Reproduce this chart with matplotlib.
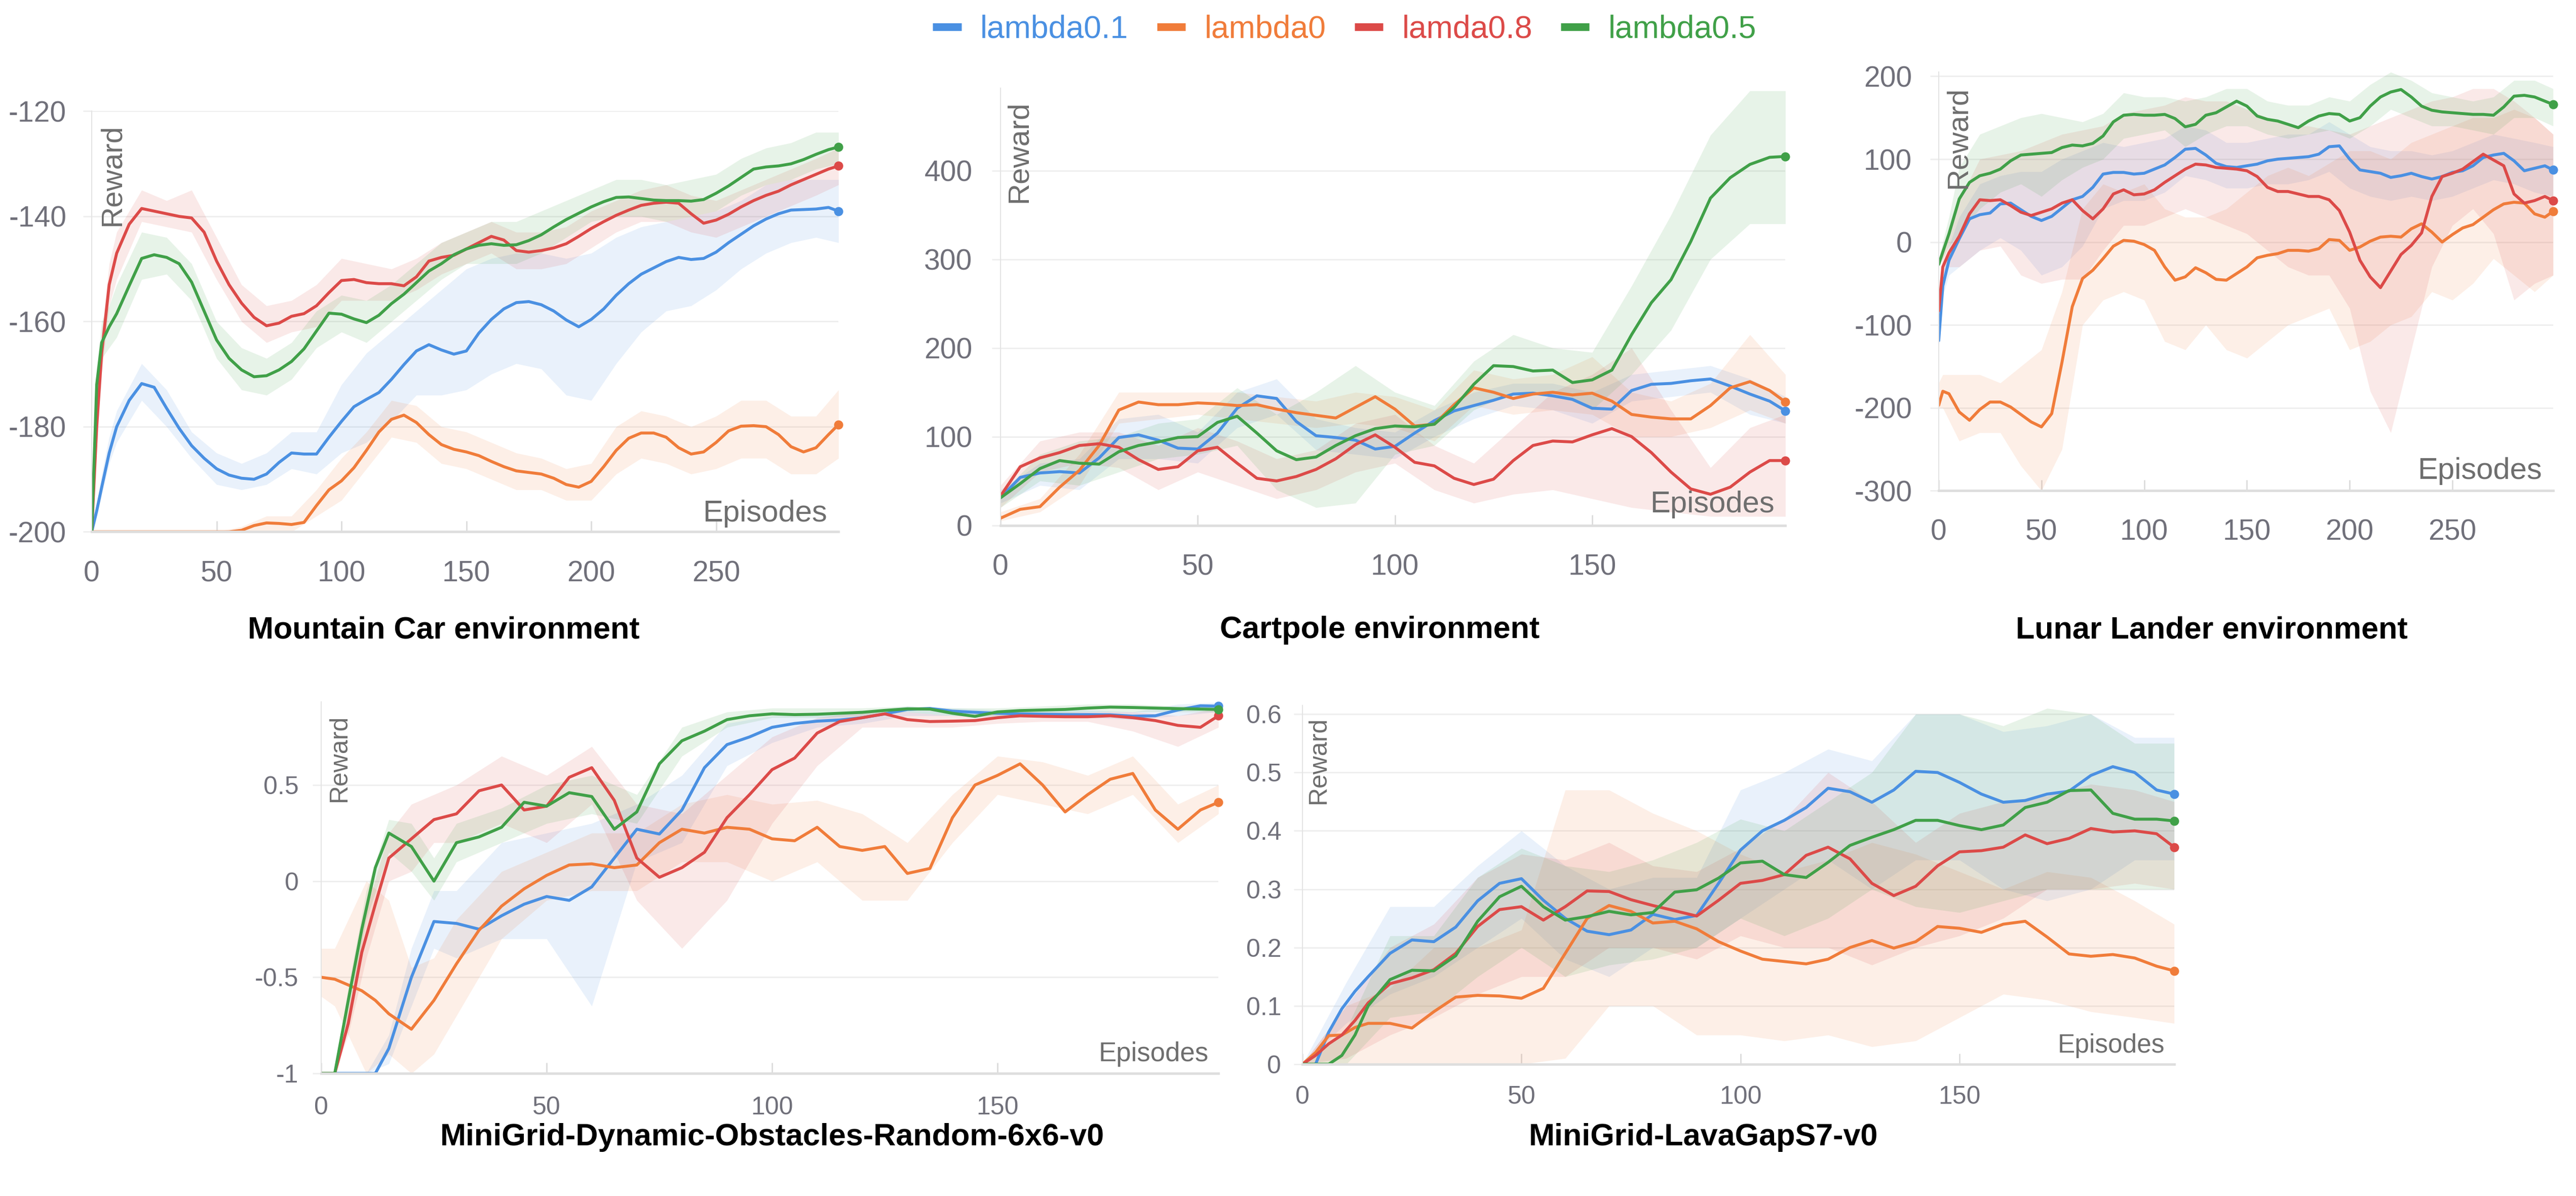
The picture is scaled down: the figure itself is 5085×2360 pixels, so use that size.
import numpy as np
import matplotlib.pyplot as plt
from matplotlib.lines import Line2D

plt.rcParams['font.family'] = ['Liberation Sans', 'DejaVu Sans']

names = ['lambda0.1', 'lambda0', 'lamda0.8', 'lambda0.5']
colors = ['#4a90e2', '#f07c3a', '#dc4a48', '#40a048']

#------ Mountain Car ---------
mc_x = [0, 2, 4, 7, 10] + list(range(15, 300, 5)) + [299]
mc_l01 = [-200, -196, -191.5, -185, -180,
          -175, -171.8, -172.5, -176.5, -180.3, -183.6, -186, -188, -189.2, -189.8,
          -190, -189, -186.8, -185, -185.2, -185.2, -182, -179, -176.2, -174.8,
          -173.5, -171, -168.2, -165.6, -164.4, -165.4, -166.2, -165.6, -162.2, -159.6,
          -157.6, -156.4, -156.2, -156.8, -158, -159.7, -161, -159.6, -157.6, -155,
          -152.8, -151, -149.8, -148.6, -147.8, -148.2, -148, -146.8, -145, -143.4,
          -141.8, -140.5, -139.5, -138.8, -138.7, -138.6, -138.3, -139]
mc_l0 = [-200, -200, -200, -200, -200,
         -200, -200, -200, -200, -200, -200, -200, -200, -200, -199.7,
         -198.8, -198.3, -198.4, -198.6, -198.2, -195, -192, -190.3, -187.8, -184.5,
         -181, -178.6, -177.8, -179.2, -181.5, -183.4, -184.3, -184.8, -185.5, -186.6,
         -187.6, -188.4, -188.7, -189, -189.8, -191, -191.5, -190.4, -187.6, -184.5,
         -182.2, -181.2, -181.2, -182, -184, -185.2, -184.8, -183, -180.8, -179.9,
         -179.8, -180, -181.5, -183.8, -184.8, -184, -181.5, -179.6]
mc_l08 = [-200, -180, -166, -153, -147,
          -141.5, -138.5, -139, -139.5, -140, -140.3, -143, -148.5, -153, -156.5,
          -159.2, -160.8, -160.3, -159, -158.5, -157, -154.5, -152.2, -152, -152.6,
          -152.8, -152.8, -153.2, -151.5, -148.5, -147.8, -147.4, -146.2, -145, -143.8,
          -144.5, -146.5, -146.8, -146.5, -146, -145.2, -143.8, -142.3, -141, -139.8,
          -138.8, -137.9, -137.5, -137.3, -137.5, -139.5, -141.3, -140.7, -139.6, -138.2,
          -137, -136, -135.2, -134, -133, -132, -131, -130.4]
mc_l05 = [-200, -172, -164, -161, -158.5,
          -153.2, -148, -147.3, -147.8, -149, -152.5, -158, -163.5, -167, -169.2,
          -170.5, -170.3, -169.2, -167.6, -165.2, -161.8, -158.4, -158.6, -159.5, -160.2,
          -158.8, -156.6, -154.8, -152.6, -150.4, -149, -147.3, -146.2, -145.5, -145.2,
          -145.5, -145.4, -144.6, -143.5, -142, -140.6, -139.4, -138.2, -137.2, -136.4,
          -136.3, -136.6, -136.9, -137, -137, -137.1, -136.8, -135.6, -134.2, -132.6,
          -131, -130.6, -130.4, -130, -129.2, -128.2, -127.3, -126.8]
# shaded bands
mc_bx = [0, 2, 4, 7] + list(range(10, 300, 10)) + [299]
mc_l01_lo = [-200, -197, -193, -187, -183, -175, -180, -186, -191, -192, -191, -188, -189, -185, -183, -179, -174,
             -174, -173, -170, -168, -169, -174, -175, -168, -162, -158, -157, -154, -150, -147, -145, -144, -145]
mc_l01_hi = [-200, -195, -189, -182, -177, -168, -173, -181, -185, -187, -185, -181, -181, -172, -166, -162, -158,
             -154, -150, -148, -147, -147, -148, -147, -144, -142, -141, -140, -139, -137, -134, -133, -133, -133]
mc_l0_lo = [-200, -200, -200, -200, -200, -200, -200, -200, -200, -200, -200, -200, -197, -194, -188, -182, -183,
            -187, -188, -190, -192, -192, -194, -194, -189, -186, -187, -189, -188, -186, -186, -189, -189, -186]
mc_l0_hi = [-200, -200, -200, -200, -200, -200, -200, -200, -200, -199, -197, -197, -192, -186, -181, -175, -176,
            -180, -181, -183, -185, -186, -188, -187, -180, -177, -178, -180, -178, -175, -175, -178, -178, -173]
mc_l08_lo = [-200, -184, -170, -157, -152, -141, -142, -143, -152, -160, -164, -162, -161, -156, -156, -156, -154,
             -151, -149, -147, -150, -150, -149, -146, -143, -141, -141, -143, -144, -142, -140, -138, -136, -134]
mc_l08_hi = [-200, -176, -162, -149, -143, -135, -137, -135, -144, -153, -157, -156, -153, -148, -149, -150, -148,
             -145, -143, -141, -143, -143, -142, -139, -137, -135, -134, -136, -137, -135, -133, -131, -129, -127]
mc_l05_lo = [-200, -175, -167, -165, -163, -152, -151, -156, -167, -173, -174, -171, -165, -162, -164, -160, -156,
             -152, -149, -149, -149, -147, -144, -141, -140, -140, -141, -140, -139, -136, -134, -133, -131, -130]
mc_l05_hi = [-200, -169, -160, -157, -153, -143, -144, -149, -160, -165, -167, -164, -158, -155, -156, -153, -149,
             -145, -143, -141, -141, -139, -137, -135, -133, -133, -134, -133, -132, -129, -127, -126, -124, -124]

#------ Cartpole ---------
cp_x = list(range(0, 200, 5)) + [199]
cp_l01 = [31, 54, 59, 60.5, 59, 76, 99, 102, 96, 87, 86, 104, 132, 146, 143, 117, 101, 99, 96, 86,
          89, 104, 118, 129, 135, 141, 148, 149, 146, 142, 132, 131, 152, 159, 160, 163, 165, 157, 148, 140, 129]
cp_l0 = [8, 18, 21, 43, 62, 90, 130, 139, 136, 136, 138, 137, 135, 136, 131, 127, 124, 121, 133, 145,
         131, 112, 114, 136, 155, 150, 143, 148, 150, 147, 149, 140, 125, 122, 120, 120, 135, 155, 162, 152, 139]
cp_l08 = [33, 66, 76, 82, 90, 92, 88, 74, 63, 66, 84, 88, 70, 53, 50, 55, 63, 75, 91, 102,
          88, 71, 67, 53, 46, 52, 73, 90, 95, 94, 102, 109, 100, 82, 60, 41, 35, 43, 60, 73, 73]
cp_l05 = [31, 47, 64, 73, 70, 69, 83, 90, 94, 99, 100, 116, 123, 104, 84, 74, 77, 90, 101, 109,
          112, 111, 114, 133, 159, 180, 179, 174, 175, 161, 164, 175, 215, 251, 277, 320, 369, 392, 407, 415, 416]
cp_bx = list(range(0, 200, 10)) + [199]
cp_l01_lo = [25, 45, 40, 75, 75, 70, 110, 125, 85, 80, 75, 100, 120, 135, 130, 115, 140, 145, 150, 125, 115]
cp_l01_hi = [40, 70, 75, 120, 125, 105, 150, 165, 120, 110, 105, 130, 150, 160, 160, 150, 170, 175, 180, 165, 145]
cp_l0_lo = [5, 15, 45, 115, 120, 125, 120, 115, 110, 115, 110, 95, 135, 125, 130, 125, 100, 100, 110, 130, 115]
cp_l0_hi = [15, 30, 80, 150, 150, 150, 150, 145, 140, 150, 145, 130, 175, 165, 170, 190, 150, 140, 160, 215, 170]
cp_l08_lo = [20, 60, 70, 65, 40, 60, 45, 30, 40, 60, 70, 40, 25, 35, 40, 30, 20, 15, 10, 10, 10]
cp_l08_hi = [45, 95, 105, 105, 90, 110, 95, 75, 85, 115, 125, 90, 70, 110, 150, 170, 200, 130, 65, 110, 125]
cp_l05_lo = [20, 50, 45, 60, 75, 80, 90, 40, 20, 25, 80, 90, 130, 150, 150, 130, 170, 220, 300, 340, 340]
cp_l05_hi = [35, 80, 95, 100, 115, 120, 155, 125, 150, 180, 150, 135, 185, 215, 200, 195, 270, 350, 440, 490, 490]

#------ Lunar Lander ---------
ll_x = [0, 2, 5] + list(range(10, 300, 5)) + [299]
ll_l01 = [-119, -53, -22,
          4, 28, 33, 35, 46, 47, 39, 31, 26, 31,
          41, 51, 55, 66, 82, 84, 84, 82, 83, 88,
          93, 102, 112, 113, 105, 95, 91, 90, 92, 94,
          98, 100, 101, 102, 103, 106, 115, 116, 100, 87,
          85, 83, 78, 80, 83, 79, 76, 79, 84, 86,
          92, 102, 105, 107, 98, 86, 89, 92, 87]
ll_l0 = [-197, -180, -183,
         -205, -215, -202, -193, -193, -199, -208, -217, -223, -207,
         -145, -78, -44, -34, -20, -5, 2, 1, -3, -10,
         -30, -46, -42, -31, -37, -45, -46, -38, -30, -19,
         -16, -14, -10, -10, -11, -8, 3, 2, -10, -6,
         1, 6, 7, 6, 16, 22, 12, 0, 9, 17,
         21, 30, 39, 46, 48, 47, 34, 30, 37]
ll_l08 = [-83, -30, -13,
          7, 34, 51, 50, 51, 44, 36, 32, 36, 40,
          47, 51, 38, 28, 40, 58, 63, 57, 58, 63,
          72, 80, 88, 94, 93, 90, 89, 88, 86, 79,
          66, 61, 61, 58, 55, 55, 51, 38, 12, -22,
          -42, -55, -35, -15, -4, 11, 55, 79, 83, 88,
          97, 106, 99, 92, 58, 47, 50, 55, 50]
ll_l05 = [-27, -12, 10,
          52, 72, 80, 83, 88, 98, 105, 106, 107, 108,
          114, 117, 116, 119, 128, 145, 153, 154, 153, 153,
          154, 149, 139, 142, 153, 156, 163, 170, 164, 152,
          148, 146, 142, 138, 146, 152, 155, 154, 146, 150,
          164, 175, 181, 184, 175, 164, 159, 157, 156, 155,
          154, 154, 153, 163, 176, 177, 175, 170, 166]
ll_bx = [0, 2, 5] + list(range(10, 300, 10)) + [299]
ll_l01_lo = [-130, -65, -40, -30, -10, 5, -10, -40, -30, -5, 40, 50, 50, 60, 80, 75, 65, 65,
             70, 70, 75, 85, 65, 55, 50, 55, 50, 55, 65, 75, 70, 60, 55]
ll_l01_hi = [-100, -40, -5, 30, 70, 80, 85, 85, 100, 110, 120, 115, 120, 125, 140, 135, 120, 120,
             125, 130, 130, 145, 130, 115, 110, 110, 105, 110, 120, 130, 125, 120, 115]
ll_l0_lo = [-200, -200, -215, -240, -230, -230, -270, -300, -250, -100, -70, -60, -70, -120, -130, -100, -130, -140,
            -120, -100, -90, -80, -130, -120, -100, -90, -60, -70, -50, -20, -40, -60, -40]
ll_l0_hi = [-170, -160, -160, -160, -160, -170, -150, -130, -60, 40, 70, 60, 70, 40, 30, 30, 40, 60,
            80, 90, 80, 95, 110, 110, 100, 120, 130, 140, 150, 150, 160, 150, 130]
ll_l08_lo = [-90, -45, -30, -30, -10, -5, -40, -50, -45, -45, -10, 20, 20, 30, 40, 30, 20, 10,
             -10, -30, -40, -40, -80, -180, -230, -130, -30, 20, 40, 10, -70, -50, -40]
ll_l08_hi = [-75, -10, 15, 50, 100, 105, 110, 120, 130, 135, 140, 155, 160, 165, 175, 170, 170, 160,
             150, 140, 140, 135, 130, 140, 150, 160, 170, 175, 185, 185, 170, 150, 130]
ll_l05_lo = [-30, -20, -5, 10, 40, 60, 70, 55, 75, 90, 100, 125, 130, 135, 115, 130, 140, 140,
             130, 125, 130, 135, 125, 140, 160, 150, 140, 140, 135, 130, 150, 150, 140]
ll_l05_hi = [-20, 0, 30, 90, 130, 140, 150, 155, 150, 145, 155, 180, 175, 175, 170, 175, 185, 185,
             170, 165, 165, 175, 170, 190, 205, 195, 180, 175, 170, 175, 195, 195, 185]

#------ MiniGrid-Dynamic-Obstacles ---------
mg_x = [0, 3, 6, 9, 12] + list(range(15, 200, 5)) + [199]
mg_l01 = [-1, -1, -1, -1, -1,
          -0.87, -0.5, -0.21, -0.22, -0.25, -0.18, -0.12, -0.08, -0.1, -0.03,
          0.12, 0.27, 0.245, 0.37, 0.59, 0.71, 0.75, 0.8, 0.82, 0.832,
          0.838, 0.85, 0.87, 0.893, 0.898, 0.884, 0.878, 0.873, 0.87, 0.868,
          0.866, 0.866, 0.865, 0.858, 0.86, 0.89, 0.912, 0.91]
mg_l0 = [-0.5, -0.51, -0.54, -0.57, -0.62,
         -0.69, -0.77, -0.62, -0.43, -0.255, -0.13, -0.04, 0.03, 0.084, 0.09,
         0.07, 0.084, 0.2, 0.27, 0.25, 0.28, 0.27, 0.22, 0.21, 0.28,
         0.18, 0.16, 0.18, 0.04, 0.066, 0.33, 0.5, 0.55, 0.61, 0.5,
         0.36, 0.45, 0.53, 0.56, 0.37, 0.27, 0.37, 0.41]
mg_l08 = [-1, -1, -0.74, -0.37, -0.12,
          0.12, 0.22, 0.32, 0.35, 0.47, 0.5, 0.37, 0.39, 0.54, 0.59,
          0.42, 0.12, 0.02, 0.07, 0.15, 0.33, 0.45, 0.58, 0.64, 0.77,
          0.83, 0.85, 0.87, 0.84, 0.83, 0.832, 0.835, 0.85, 0.86, 0.857,
          0.855, 0.855, 0.86, 0.85, 0.835, 0.81, 0.8, 0.86]
mg_l05 = [-1, -1, -0.62, -0.25, 0.07,
          0.25, 0.18, 0.0, 0.2, 0.23, 0.28, 0.41, 0.39, 0.46, 0.44,
          0.27, 0.36, 0.61, 0.73, 0.78, 0.84, 0.86, 0.87, 0.866, 0.868,
          0.873, 0.878, 0.888, 0.896, 0.895, 0.873, 0.857, 0.88, 0.887, 0.89,
          0.893, 0.9, 0.905, 0.903, 0.9, 0.897, 0.895, 0.893]
mg_bx = [0, 3, 6, 10, 15, 20, 25, 30] + list(range(40, 200, 10)) + [199]
mg_l01_lo = [-1, -1, -1, -1, -0.95, -0.65, -0.35, -0.4, -0.3, -0.3, -0.65, 0.1, 0.2, 0.6, 0.72, 0.8, 0.82,
             0.86, 0.86, 0.85, 0.85, 0.85, 0.84, 0.86, 0.88]
mg_l01_hi = [-1, -1, -1, -1, -0.8, -0.35, -0.05, -0.05, 0.2, 0.25, 0.3, 0.4, 0.55, 0.82, 0.86, 0.87, 0.88,
             0.91, 0.9, 0.89, 0.89, 0.89, 0.88, 0.92, 0.93]
mg_l0_lo = [-0.6, -0.65, -0.8, -1, -0.9, -1, -0.9, -0.7, -0.3, -0.1, -0.05, -0.05, 0.1, 0.1, 0.0, 0.1, -0.1,
            -0.1, 0.2, 0.45, 0.4, 0.35, 0.45, 0.2, 0.35]
mg_l0_hi = [-0.35, -0.35, -0.2, 0.0, -0.1, -0.45, -0.4, -0.2, 0.05, 0.15, 0.25, 0.25, 0.4, 0.45, 0.4, 0.42, 0.35,
            0.2, 0.45, 0.65, 0.62, 0.55, 0.65, 0.4, 0.5]
mg_l08_lo = [-1, -1, -0.8, -0.4, 0.0, 0.05, 0.2, 0.2, 0.3, 0.2, 0.4, -0.1, -0.35, -0.1, 0.3, 0.6, 0.8,
             0.8, 0.8, 0.82, 0.83, 0.83, 0.78, 0.7, 0.8]
mg_l08_hi = [-1, -1, -0.68, -0.15, 0.25, 0.4, 0.45, 0.5, 0.65, 0.55, 0.7, 0.4, 0.35, 0.55, 0.75, 0.85, 0.88,
             0.88, 0.86, 0.88, 0.88, 0.88, 0.88, 0.86, 0.9]
mg_l05_lo = [-1, -1, -0.7, -0.2, 0.15, 0.05, -0.1, 0.1, 0.2, 0.3, 0.35, 0.3, 0.65, 0.8, 0.85, 0.85, 0.86,
             0.88, 0.86, 0.86, 0.87, 0.88, 0.88, 0.88, 0.88]
mg_l05_hi = [-1, -1, -0.55, -0.05, 0.32, 0.3, 0.12, 0.3, 0.38, 0.5, 0.55, 0.45, 0.8, 0.88, 0.9, 0.9, 0.9,
             0.91, 0.9, 0.9, 0.91, 0.92, 0.92, 0.91, 0.91]

#------ MiniGrid-LavaGapS7 ---------
lg_x = [0, 3, 6, 9, 12] + list(range(15, 200, 5)) + [199]
lg_l01 = [0, 0, 0.055, 0.095, 0.125,
          0.15, 0.19, 0.213, 0.21, 0.235, 0.28, 0.31, 0.318, 0.281, 0.25,
          0.228, 0.222, 0.23, 0.257, 0.248, 0.255, 0.31, 0.367, 0.4, 0.418,
          0.44, 0.473, 0.467, 0.449, 0.47, 0.502, 0.5, 0.483, 0.463, 0.449,
          0.452, 0.463, 0.468, 0.495, 0.51, 0.5, 0.47, 0.463]
lg_l0 = [0, 0.02, 0.049, 0.05, 0.063,
         0.07, 0.07, 0.062, 0.09, 0.115, 0.118, 0.117, 0.113, 0.13, 0.19,
         0.25, 0.272, 0.262, 0.242, 0.245, 0.232, 0.21, 0.194, 0.18, 0.176,
         0.172, 0.18, 0.2, 0.212, 0.199, 0.21, 0.236, 0.233, 0.226, 0.24,
         0.245, 0.218, 0.189, 0.185, 0.188, 0.182, 0.168, 0.16]
lg_l08 = [0, 0.015, 0.035, 0.05, 0.075,
          0.105, 0.138, 0.148, 0.162, 0.19, 0.236, 0.265, 0.27, 0.247, 0.27,
          0.297, 0.296, 0.282, 0.272, 0.263, 0.254, 0.281, 0.31, 0.315, 0.325,
          0.358, 0.372, 0.352, 0.31, 0.289, 0.305, 0.34, 0.364, 0.366, 0.372,
          0.393, 0.378, 0.387, 0.404, 0.398, 0.4, 0.395, 0.372]
lg_l05 = [0, 0, 0, 0.015, 0.05,
          0.1, 0.145, 0.161, 0.16, 0.186, 0.245, 0.287, 0.305, 0.27, 0.247,
          0.253, 0.262, 0.256, 0.26, 0.295, 0.299, 0.319, 0.345, 0.348, 0.325,
          0.32, 0.346, 0.375, 0.389, 0.402, 0.418, 0.418, 0.409, 0.402, 0.41,
          0.44, 0.449, 0.469, 0.47, 0.43, 0.42, 0.42, 0.417]
lg_bx = list(range(0, 200, 10)) + [199]
lg_l01_lo = [0, 0.07, 0.12, 0.15, 0.2, 0.25, 0.18, 0.15, 0.2, 0.2, 0.25, 0.3, 0.35, 0.3, 0.35, 0.35, 0.3, 0.28, 0.3, 0.35, 0.35]
lg_l01_hi = [0, 0.14, 0.27, 0.27, 0.34, 0.4, 0.34, 0.3, 0.32, 0.32, 0.47, 0.5, 0.54, 0.52, 0.6, 0.6, 0.57, 0.58, 0.6, 0.56, 0.56]
lg_l0_lo = [0, 0, 0, 0, 0, 0, 0.01, 0.1, 0.1, 0.05, 0.05, 0.04, 0.05, 0.03, 0.04, 0.08, 0.12, 0.11, 0.09, 0.08, 0.07]
lg_l0_hi = [0, 0.1, 0.13, 0.2, 0.2, 0.23, 0.47, 0.47, 0.43, 0.4, 0.36, 0.33, 0.35, 0.38, 0.36, 0.33, 0.3, 0.33, 0.32, 0.28, 0.24]
lg_l08_lo = [0, 0.01, 0.05, 0.08, 0.12, 0.15, 0.15, 0.2, 0.2, 0.18, 0.22, 0.2, 0.2, 0.17, 0.2, 0.22, 0.25, 0.3, 0.3, 0.31, 0.3]
lg_l08_hi = [0, 0.1, 0.2, 0.24, 0.32, 0.36, 0.35, 0.38, 0.34, 0.33, 0.37, 0.42, 0.5, 0.45, 0.38, 0.43, 0.45, 0.46, 0.48, 0.47, 0.45]
lg_l05_lo = [0, 0, 0.08, 0.09, 0.15, 0.2, 0.15, 0.17, 0.18, 0.2, 0.25, 0.22, 0.25, 0.3, 0.27, 0.26, 0.28, 0.3, 0.3, 0.3, 0.3]
lg_l05_hi = [0, 0.06, 0.22, 0.22, 0.32, 0.37, 0.34, 0.33, 0.35, 0.38, 0.42, 0.4, 0.45, 0.5, 0.6, 0.6, 0.58, 0.61, 0.6, 0.55, 0.55]

# axis tick labels
mc_yticks = [-200, -180, -160, -140, -120]
cp_yticks = [0, 100, 200, 300, 400]
ll_yticks = [-300, -200, -100, 0, 100, 200]
mg_yticks = [-1, -0.5, 0, 0.5]
mg_ylabels = ['-1', '-0.5', '0', '0.5']
lg_yticks = [0, 0.1, 0.2, 0.3, 0.4, 0.5, 0.6]
lg_ylabels = ['0', '0.1', '0.2', '0.3', '0.4', '0.5', '0.6']
x300_ticks = [0, 50, 100, 150, 200, 250]
x200_ticks = [0, 50, 100, 150]

titles = ['Mountain Car environment', 'Cartpole environment', 'Lunar Lander environment',
          'MiniGrid-Dynamic-Obstacles-Random-6x6-v0', 'MiniGrid-LavaGapS7-v0']

fig = plt.figure(figsize=(50.85, 23.6), dpi=100)


def panel(rect, x, ys, bx, los, his, xmax, ylim, yticks, ylabels, xticks,
          fs, xpad, ypad, lab_fs, ep_fs, rw, ep):
    ax = fig.add_axes(rect)
    for lo, hi, c in zip(los, his, colors):
        ax.fill_between(bx, lo, hi, color=c, alpha=0.12, lw=0)
    for y, c in zip(ys, colors):
        ax.plot(x, y, color=c, lw=4.2, solid_joinstyle='round', solid_capstyle='round')
        ax.plot(x[-1], y[-1], 'o', color=c, ms=12, clip_on=False)
    ax.set_xlim(0, xmax)
    ax.set_ylim(*ylim)
    ax.set_yticks(yticks)
    ax.set_yticklabels(ylabels)
    ax.set_xticks(xticks)
    ax.set_xticklabels([str(t) for t in xticks])
    ax.spines['top'].set_visible(False)
    ax.spines['right'].set_visible(False)
    ax.spines['left'].set_color('#e4e4e4')
    ax.spines['left'].set_linewidth(1.5)
    ax.spines['bottom'].set_color('#dedede')
    ax.spines['bottom'].set_linewidth(3.5)
    ax.yaxis.grid(True, color='#eeeeee', lw=2)
    ax.set_axisbelow(True)
    ax.tick_params(axis='x', direction='in', length=15, width=2, color='#dcdcdc',
                   labelsize=fs, labelcolor='#70707a', pad=xpad)
    ax.tick_params(axis='y', direction='out', length=12, width=2, color='#eeeeee',
                   labelsize=fs, labelcolor='#70707a', pad=ypad)
    ax.text(rw[0], rw[1], 'Reward', transform=ax.transAxes, rotation=90,
            ha='left', va='top', fontsize=lab_fs, color='#6e6e6e')
    ax.text(ep[0], ep[1], 'Episodes', transform=ax.transAxes,
            ha='right', va='baseline', fontsize=ep_fs, color='#6e6e6e')
    return ax


panel([0.0356, 0.5553, 0.2899, 0.3517], mc_x, [mc_l01, mc_l0, mc_l08, mc_l05], mc_bx,
      [mc_l01_lo, mc_l0_lo, mc_l08_lo, mc_l05_lo], [mc_l01_hi, mc_l0_hi, mc_l08_hi, mc_l05_hi],
      299, (-200, -120), mc_yticks, [str(t) for t in mc_yticks], x300_ticks,
      41, 40, 24, 42, 43, (0.009, 0.97), (0.985, 0.025))

panel([0.3884, 0.5608, 0.3047, 0.3655], cp_x, [cp_l01, cp_l0, cp_l08, cp_l05], cp_bx,
      [cp_l01_lo, cp_l0_lo, cp_l08_lo, cp_l05_lo], [cp_l01_hi, cp_l0_hi, cp_l08_hi, cp_l05_hi],
      199, (0, 493), cp_yticks, [str(t) for t in cp_yticks], x200_ticks,
      41, 40, 28, 42, 43, (0.006, 0.971), (0.986, 0.029))

panel([0.7526, 0.5897, 0.2385, 0.35], ll_x, [ll_l01, ll_l0, ll_l08, ll_l05], ll_bx,
      [ll_l01_lo, ll_l0_lo, ll_l08_lo, ll_l05_lo], [ll_l01_hi, ll_l0_hi, ll_l08_hi, ll_l05_hi],
      299, (-300, 205), ll_yticks, [str(t) for t in ll_yticks], x300_ticks,
      41, 40, 26, 42, 43, (0.01, 0.966), (0.982, 0.028))

panel([0.1247, 0.1025, 0.3483, 0.3106], mg_x, [mg_l01, mg_l0, mg_l08, mg_l05], mg_bx,
      [mg_l01_lo, mg_l0_lo, mg_l08_lo, mg_l05_lo], [mg_l01_hi, mg_l0_hi, mg_l08_hi, mg_l05_hi],
      199, (-1, 0.932), mg_yticks, mg_ylabels, x200_ticks,
      36, 32, 20, 36, 38, (0.007, 0.967), (0.989, 0.033))

panel([0.5056, 0.1102, 0.3384, 0.3], lg_x, [lg_l01, lg_l0, lg_l08, lg_l05], lg_bx,
      [lg_l01_lo, lg_l0_lo, lg_l08_lo, lg_l05_lo], [lg_l01_hi, lg_l0_hi, lg_l08_hi, lg_l05_hi],
      199, (0, 0.615), lg_yticks, lg_ylabels, x200_ticks,
      36, 30, 18, 36, 37, (0.005, 0.969), (0.989, 0.033))

title_pos = [(0.1723, 0.473), (0.5357, 0.473), (0.8586, 0.473), (0.2998, 0.049), (0.6612, 0.049)]
for t, (tx, ty) in zip(titles, title_pos):
    fig.text(tx, ty, t, ha='center', va='center', fontsize=44, fontweight='bold')

handles = [Line2D([0], [0], color=c, lw=11, solid_capstyle='butt') for c in colors]
leg = fig.legend(handles, names, loc='center', bbox_to_anchor=(0.522, 0.9754), ncol=4,
                 frameon=False, fontsize=45, handlelength=0.9, handletextpad=0.6,
                 columnspacing=0.9)
for txt, c in zip(leg.get_texts(), colors):
    txt.set_color(c)

fig.savefig('out.png', dpi=100)
